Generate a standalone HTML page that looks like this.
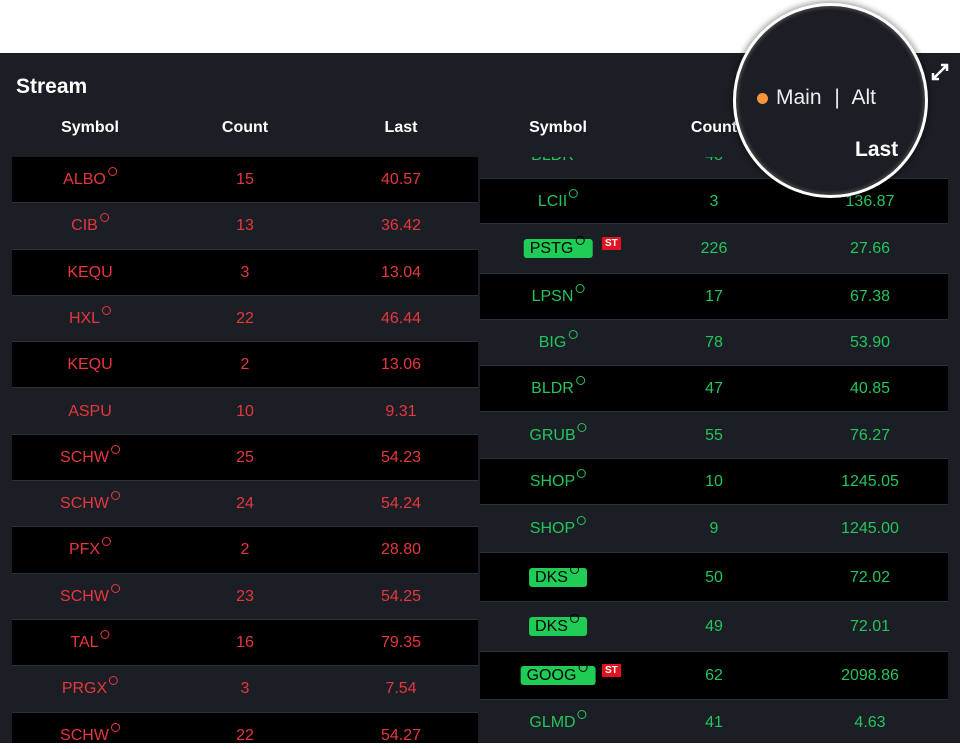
<!DOCTYPE html>
<html><head><meta charset="utf-8"><style>
body{margin:0;width:960px;height:749px;background:#fff;position:relative;overflow:hidden;font-family:"Liberation Sans",sans-serif}
#panel{position:absolute;left:0;top:53px;width:960px;height:690px;background:#1b1e25;overflow:hidden}
.t{position:absolute;color:#fff}
.h{position:absolute;top:119px;font-weight:bold;font-size:16px;color:#fff;transform:translateX(-50%)}
#rows{position:absolute;left:0;top:0;width:960px;height:743px;overflow:hidden}
#rrows{position:absolute;left:0;top:157px;width:960px;height:586px;overflow:hidden}
.row{position:absolute;border-bottom:1px solid #2c3038;box-sizing:border-box}
.c{position:absolute;font-size:16px;transform:translateX(-50%);white-space:nowrap}
.o{display:inline-block;width:7px;height:7px;border:1px solid currentColor;border-radius:50%;position:relative;top:-8px;margin-left:2px;vertical-align:baseline}
.badge{background:#1fcc55;color:#000;border-radius:3px;padding:1px 8px 1px 6px}
.st{position:absolute;background:#e0141e;color:#fff;font-size:10px;font-weight:bold;padding:0 3px;line-height:13px}
</style></head><body>
<div id="panel"></div>
<div class="t" style="left:16px;top:75px;font-size:21px;font-weight:bold">Stream</div>
<div class="h" style="left:90px">Symbol</div>
<div class="h" style="left:245px">Count</div>
<div class="h" style="left:401px">Last</div>
<div class="h" style="left:558px">Symbol</div>
<div class="h" style="left:714px">Count</div>
<div id="rows"></div>
<div id="rrows"></div>
<svg style="position:absolute;left:928px;top:60px" width="24" height="24"><path d="M5 19L19 5M13 5h6v6M5 13v6h6" stroke="#fff" stroke-width="2.5" fill="none"/></svg>
<div style="position:absolute;left:733px;top:3px;width:189px;height:189px;border-radius:50%;background:#1b1e25;border:3px solid #fff;box-shadow:0 0 6px 2px rgba(0,0,0,0.35),inset 0 0 3px 2px #444;overflow:hidden">
 <div style="position:absolute;left:21px;top:87px;width:11px;height:11px;border-radius:50%;background:#f7953a"></div>
 <div style="position:absolute;left:40px;top:80px;font-size:21px;color:#eee;white-space:nowrap">Main <span style="margin:0 7px">|</span> Alt</div>
 <div style="position:absolute;left:119px;top:132px;font-size:21px;font-weight:bold;color:#fff">Last</div>
</div>
<script>
const leftSym=["ALBO","CIB","KEQU","HXL","KEQU","ASPU","SCHW","SCHW","PFX","SCHW","TAL","PRGX","SCHW"];
const leftCount=[15,13,3,22,2,10,25,24,2,23,16,3,22];
const leftLast=["40.57","36.42","13.04","46.44","13.06","9.31","54.23","54.24","28.80","54.25","79.35","7.54","54.27"];
const leftCircle=[1,1,0,1,0,0,1,1,1,1,1,1,1];
const rightSym=["BLDR","LCII","PSTG","LPSN","BIG","BLDR","GRUB","SHOP","SHOP","DKS","DKS","GOOG","GLMD"];
const rightCount=[48,3,226,17,78,47,55,10,9,50,49,62,41];
const rightLast=["40.88","136.87","27.66","67.38","53.90","40.85","76.27","1245.05","1245.00","72.02","72.01","2098.86","4.63"];
const rightBadge=[0,0,1,0,0,0,0,0,0,1,1,1,0];
const rightST=[0,0,1,0,0,0,0,0,0,0,0,1,0];
const rightTops=[133,179,224,274,320,366,412,459,505,553,602,652,700];
const R=document.getElementById('rows');
const RR=document.getElementById('rrows');
function mk(html,cls,st,P){const d=document.createElement('div');d.className=cls;d.style.cssText=st;d.innerHTML=html;(P||R).appendChild(d);return d;}
leftSym.forEach((s,i)=>{
 const top=157+i*46.3, h=46.3;
 const r=mk('','row',`left:12px;top:${top}px;width:466px;height:${h}px;background:${i%2==0?'#000':'#1b1e25'}`);
 
 
 const col='#e8363f', pos=`top:${top}px;height:${h}px;line-height:${h}px;color:${col}`;
 const a=mk(s+(leftCircle[i]?'<span class="o"></span>':''),'c',`left:90px;${pos}`);
 
 
 const b=mk(leftCount[i],'c',`left:245px;${pos}`);
 
 
 const c=mk(leftLast[i],'c',`left:401px;${pos}`);
 
 
});
rightSym.forEach((s,i)=>{
 const top=rightTops[i]-157, h=(rightTops[i+1]||746)-rightTops[i];
 const r=mk('','row',`left:480px;top:${top}px;width:468px;height:${h}px;background:${i%2==1?'#000':'#1b1e25'}`,RR);
 
 
 const col='#22c55e', pos=`top:${top}px;height:${h}px;line-height:${h}px;color:${col}`;
 const inner=rightBadge[i]?`<span class="badge">${s}<span class="o" style="color:#000"></span></span>`:s+'<span class="o"></span>';
 const a=mk(inner,'c',`left:558px;${pos}`,RR);
 
 
 if(rightST[i]){const t=mk('ST','st',`left:602px;top:${top+h/2-12}px`,RR);
  
  }
 const b=mk(rightCount[i],'c',`left:714px;${pos}`,RR);
 
 
 const c=mk(rightLast[i],'c',`left:870px;${pos}`,RR);
 
 
});
</script>
</body></html>
